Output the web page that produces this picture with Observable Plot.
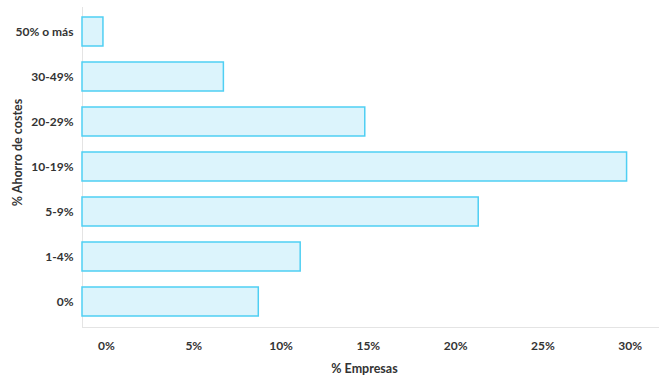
<!DOCTYPE html>
<html>
<head>
<meta charset="utf-8">
<script src="https://cdn.jsdelivr.net/npm/d3@7"></script>
<script src="https://cdn.jsdelivr.net/npm/@observablehq/plot@0.6"></script>
<style>
  body { margin: 0; background: #fff; }
  svg { font-family: Lato, "Open Sans", sans-serif; }
</style>
</head>
<body>
<div id="chart"></div>
<script>
const categories = ["50% o más", "30-49%", "20-29%", "10-19%", "5-9%", "1-4%", "0%"];
const values = [1.2, 8.1, 16.2, 31.2, 22.7, 12.5, 10.1];
const xTicks = [0, 5, 10, 15, 20, 25, 30];
const xTickLabels = ["0%", "5%", "10%", "15%", "20%", "25%", "30%"];

const data = categories.map((c, i) => ({cat: c, v: values[i]}));

const chart = Plot.plot({
  width: 671,
  height: 384,
  marginLeft: 82,
  marginRight: 13,
  marginTop: 7,
  marginBottom: 57,
  style: {fontFamily: "Lato, sans-serif", fontSize: "12px", fontWeight: "bold", color: "#333"},
  x: {domain: [0, 33]},
  y: {domain: categories, paddingInner: 0.35, paddingOuter: 0.18},
  marks: [
    Plot.frame({anchor: "left", stroke: "#e4e4e4"}),
    Plot.frame({anchor: "bottom", stroke: "#e4e4e4"}),
    Plot.barX(data, {y: "cat", x: "v", fill: "#dcf4fc", stroke: "#4fcff3", strokeWidth: 1.5}),
    Plot.axisY({tickSize: 0, tickPadding: 9, label: null, fill: "#333", fontSize: 12, fontWeight: "bold"}),
    Plot.axisX({ticks: xTicks, tickFormat: (d) => xTickLabels[xTicks.indexOf(d)], tickSize: 0, tickPadding: 14, dx: 24, label: null, fill: "#333", fontSize: 12, fontWeight: "bold"}),
    Plot.text(["% Empresas"], {frameAnchor: "bottom", dy: 45, dx: -6, fill: "#333", fontSize: 12.5, fontWeight: "bold"}),
    Plot.text(["% Ahorro de costes"], {frameAnchor: "left", textAnchor: "middle", dx: -65, dy: -15, rotate: -90, fill: "#333", fontSize: 12.5, fontWeight: "bold"})
  ]
});
document.getElementById("chart").appendChild(chart);
</script>
</body>
</html>
